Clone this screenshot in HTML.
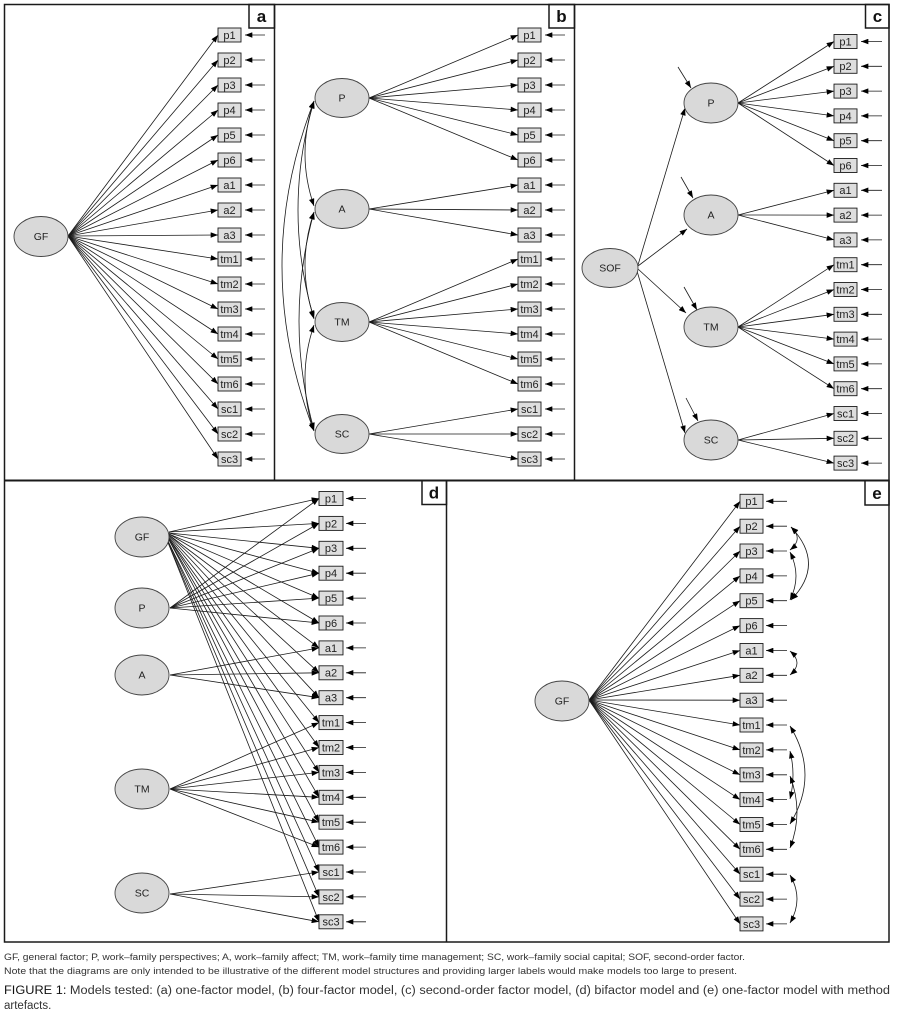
<!DOCTYPE html>
<html><head><meta charset="utf-8"><style>
html,body{margin:0;padding:0;background:#fff;}
svg{display:block;}
.ln{stroke:#1a1a1a;stroke-width:0.8;fill:none;}
.bx{fill:#dedede;stroke:#1a1a1a;stroke-width:0.9;}
.el{fill:#d9d9d9;stroke:#444;stroke-width:0.9;}
.t{font-family:"Liberation Sans",sans-serif;font-size:11px;fill:#222;text-anchor:middle;}
.et{font-family:"Liberation Sans",sans-serif;font-size:10.5px;fill:#222;text-anchor:middle;}
.lb{font-family:"Liberation Sans",sans-serif;font-size:17px;font-weight:bold;fill:#111;text-anchor:middle;}
.cap{font-family:"Liberation Sans Narrow","Liberation Sans",sans-serif;fill:#333;}
</style></head><body>
<svg width="898" height="1017" viewBox="0 0 898 1017" xmlns="http://www.w3.org/2000/svg">
<defs>
<marker id="ah" viewBox="0 0 8 6" refX="8" refY="3" markerWidth="8" markerHeight="5.5" markerUnits="userSpaceOnUse" orient="auto"><path d="M0,0L8,3L0,6z" fill="#000"/></marker>
<marker id="as" viewBox="0 0 8 6" refX="8" refY="3" markerWidth="8" markerHeight="5.5" markerUnits="userSpaceOnUse" orient="auto-start-reverse"><path d="M0,0L8,3L0,6z" fill="#000"/></marker>
</defs>
<rect width="898" height="1017" fill="#fff"/>

<!-- panel borders -->
<g stroke="#1a1a1a" stroke-width="1.5" fill="none">
<rect x="4.5" y="4.5" width="884.5" height="937.5"/>
<line x1="4.5" y1="480.5" x2="889" y2="480.5" stroke-width="2"/>
<line x1="274.5" y1="4.5" x2="274.5" y2="480.5"/>
<line x1="574.5" y1="4.5" x2="574.5" y2="480.5"/>
<line x1="446.5" y1="480.5" x2="446.5" y2="942"/>
<rect x="249" y="4.5" width="25.5" height="23.5"/>
<rect x="549" y="4.5" width="25.5" height="23.5"/>
<rect x="865.5" y="4.5" width="23.5" height="23.5"/>
<rect x="422" y="480.5" width="24.5" height="24"/>
<rect x="865" y="480.5" width="24" height="24.5"/>
</g>
<text class="lb" x="261.5" y="22">a</text>
<text class="lb" x="561.5" y="22">b</text>
<text class="lb" x="877.5" y="22">c</text>
<text class="lb" x="434" y="498.5">d</text>
<text class="lb" x="877" y="499">e</text>

<!-- ===== Panel a ===== -->
<g class="ln" marker-end="url(#ah)">
<line x1="68" y1="236" x2="218" y2="35"/>
<line x1="68" y1="236" x2="218" y2="60"/>
<line x1="68" y1="236" x2="218" y2="85"/>
<line x1="68" y1="236" x2="218" y2="110"/>
<line x1="68" y1="236" x2="218" y2="135"/>
<line x1="68" y1="236" x2="218" y2="160"/>
<line x1="68" y1="236" x2="218" y2="185"/>
<line x1="68" y1="236" x2="218" y2="210"/>
<line x1="68" y1="236" x2="218" y2="235"/>
<line x1="68" y1="236" x2="218" y2="259"/>
<line x1="68" y1="236" x2="218" y2="284"/>
<line x1="68" y1="236" x2="218" y2="309"/>
<line x1="68" y1="236" x2="218" y2="334"/>
<line x1="68" y1="236" x2="218" y2="359"/>
<line x1="68" y1="236" x2="218" y2="384"/>
<line x1="68" y1="236" x2="218" y2="409"/>
<line x1="68" y1="236" x2="218" y2="434"/>
<line x1="68" y1="236" x2="218" y2="459"/>
</g>
<g class="ln" marker-end="url(#ah)">
<line x1="265" y1="35" x2="245" y2="35"/><line x1="265" y1="60" x2="245" y2="60"/><line x1="265" y1="85" x2="245" y2="85"/><line x1="265" y1="110" x2="245" y2="110"/><line x1="265" y1="135" x2="245" y2="135"/><line x1="265" y1="160" x2="245" y2="160"/><line x1="265" y1="185" x2="245" y2="185"/><line x1="265" y1="210" x2="245" y2="210"/><line x1="265" y1="235" x2="245" y2="235"/><line x1="265" y1="259" x2="245" y2="259"/><line x1="265" y1="284" x2="245" y2="284"/><line x1="265" y1="309" x2="245" y2="309"/><line x1="265" y1="334" x2="245" y2="334"/><line x1="265" y1="359" x2="245" y2="359"/><line x1="265" y1="384" x2="245" y2="384"/><line x1="265" y1="409" x2="245" y2="409"/><line x1="265" y1="434" x2="245" y2="434"/><line x1="265" y1="459" x2="245" y2="459"/>
</g>
<g class="bx">
<rect x="218" y="28" width="23" height="14"/><rect x="218" y="53" width="23" height="14"/><rect x="218" y="78" width="23" height="14"/><rect x="218" y="103" width="23" height="14"/><rect x="218" y="128" width="23" height="14"/><rect x="218" y="153" width="23" height="14"/><rect x="218" y="178" width="23" height="14"/><rect x="218" y="203" width="23" height="14"/><rect x="218" y="228" width="23" height="14"/><rect x="218" y="252" width="23" height="14"/><rect x="218" y="277" width="23" height="14"/><rect x="218" y="302" width="23" height="14"/><rect x="218" y="327" width="23" height="14"/><rect x="218" y="352" width="23" height="14"/><rect x="218" y="377" width="23" height="14"/><rect x="218" y="402" width="23" height="14"/><rect x="218" y="427" width="23" height="14"/><rect x="218" y="452" width="23" height="14"/>
</g>
<g class="t">
<text x="229.5" y="38.9">p1</text><text x="229.5" y="63.9">p2</text><text x="229.5" y="88.9">p3</text><text x="229.5" y="113.9">p4</text><text x="229.5" y="138.9">p5</text><text x="229.5" y="163.9">p6</text><text x="229.5" y="188.9">a1</text><text x="229.5" y="213.9">a2</text><text x="229.5" y="238.9">a3</text><text x="229.5" y="262.9">tm1</text><text x="229.5" y="287.9">tm2</text><text x="229.5" y="312.9">tm3</text><text x="229.5" y="337.9">tm4</text><text x="229.5" y="362.9">tm5</text><text x="229.5" y="387.9">tm6</text><text x="229.5" y="412.9">sc1</text><text x="229.5" y="437.9">sc2</text><text x="229.5" y="462.9">sc3</text>
</g>
<ellipse class="el" cx="41" cy="236.5" rx="27" ry="20"/>
<text class="et" x="41" y="240">GF</text>

<!-- ===== Panel b ===== -->
<g class="ln" marker-end="url(#ah)">
<line x1="369" y1="98" x2="518" y2="35"/><line x1="369" y1="98" x2="518" y2="60"/><line x1="369" y1="98" x2="518" y2="85"/><line x1="369" y1="98" x2="518" y2="110"/><line x1="369" y1="98" x2="518" y2="135"/><line x1="369" y1="98" x2="518" y2="160"/>
<line x1="369" y1="209" x2="518" y2="185"/><line x1="369" y1="209" x2="518" y2="210"/><line x1="369" y1="209" x2="518" y2="235"/>
<line x1="369" y1="322" x2="518" y2="259"/><line x1="369" y1="322" x2="518" y2="284"/><line x1="369" y1="322" x2="518" y2="309"/><line x1="369" y1="322" x2="518" y2="334"/><line x1="369" y1="322" x2="518" y2="359"/><line x1="369" y1="322" x2="518" y2="384"/>
<line x1="369" y1="434" x2="518" y2="409"/><line x1="369" y1="434" x2="518" y2="434"/><line x1="369" y1="434" x2="518" y2="459"/>
</g>
<g class="ln" marker-end="url(#ah)">
<line x1="565" y1="35" x2="545" y2="35"/><line x1="565" y1="60" x2="545" y2="60"/><line x1="565" y1="85" x2="545" y2="85"/><line x1="565" y1="110" x2="545" y2="110"/><line x1="565" y1="135" x2="545" y2="135"/><line x1="565" y1="160" x2="545" y2="160"/><line x1="565" y1="185" x2="545" y2="185"/><line x1="565" y1="210" x2="545" y2="210"/><line x1="565" y1="235" x2="545" y2="235"/><line x1="565" y1="259" x2="545" y2="259"/><line x1="565" y1="284" x2="545" y2="284"/><line x1="565" y1="309" x2="545" y2="309"/><line x1="565" y1="334" x2="545" y2="334"/><line x1="565" y1="359" x2="545" y2="359"/><line x1="565" y1="384" x2="545" y2="384"/><line x1="565" y1="409" x2="545" y2="409"/><line x1="565" y1="434" x2="545" y2="434"/><line x1="565" y1="459" x2="545" y2="459"/>
</g>
<g class="bx">
<rect x="518" y="28" width="23" height="14"/><rect x="518" y="53" width="23" height="14"/><rect x="518" y="78" width="23" height="14"/><rect x="518" y="103" width="23" height="14"/><rect x="518" y="128" width="23" height="14"/><rect x="518" y="153" width="23" height="14"/><rect x="518" y="178" width="23" height="14"/><rect x="518" y="203" width="23" height="14"/><rect x="518" y="228" width="23" height="14"/><rect x="518" y="252" width="23" height="14"/><rect x="518" y="277" width="23" height="14"/><rect x="518" y="302" width="23" height="14"/><rect x="518" y="327" width="23" height="14"/><rect x="518" y="352" width="23" height="14"/><rect x="518" y="377" width="23" height="14"/><rect x="518" y="402" width="23" height="14"/><rect x="518" y="427" width="23" height="14"/><rect x="518" y="452" width="23" height="14"/>
</g>
<g class="t">
<text x="529.5" y="38.9">p1</text><text x="529.5" y="63.9">p2</text><text x="529.5" y="88.9">p3</text><text x="529.5" y="113.9">p4</text><text x="529.5" y="138.9">p5</text><text x="529.5" y="163.9">p6</text><text x="529.5" y="188.9">a1</text><text x="529.5" y="213.9">a2</text><text x="529.5" y="238.9">a3</text><text x="529.5" y="262.9">tm1</text><text x="529.5" y="287.9">tm2</text><text x="529.5" y="312.9">tm3</text><text x="529.5" y="337.9">tm4</text><text x="529.5" y="362.9">tm5</text><text x="529.5" y="387.9">tm6</text><text x="529.5" y="412.9">sc1</text><text x="529.5" y="437.9">sc2</text><text x="529.5" y="462.9">sc3</text>
</g>
<!-- covariances b -->
<g class="ln" marker-start="url(#as)" marker-end="url(#ah)">
<path d="M314,101 Q296,154 314,206"/>
<path d="M314,101 Q282,210 314,319"/>
<path d="M314,101 Q250,266 314,431"/>
<path d="M314,212 Q296,265 314,318"/>
<path d="M314,212 Q284,321 314,430"/>
<path d="M314,325 Q296,378 314,431"/>
</g>
<g class="el">
<ellipse cx="342" cy="98" rx="27" ry="19.5"/>
<ellipse cx="342" cy="209" rx="27" ry="19.5"/>
<ellipse cx="342" cy="322" rx="27" ry="19.5"/>
<ellipse cx="342" cy="434" rx="27" ry="19.5"/>
</g>
<g class="et">
<text x="342" y="101.5">P</text><text x="342" y="212.5">A</text><text x="342" y="325.5">TM</text><text x="342" y="437.5">SC</text>
</g>

<!-- ===== Panel c ===== -->
<g class="ln" marker-end="url(#ah)">
<line x1="738" y1="103" x2="834" y2="41.5"/><line x1="738" y1="103" x2="834" y2="66.3"/><line x1="738" y1="103" x2="834" y2="91.1"/><line x1="738" y1="103" x2="834" y2="115.9"/><line x1="738" y1="103" x2="834" y2="140.7"/><line x1="738" y1="103" x2="834" y2="165.5"/>
<line x1="738" y1="215" x2="834" y2="190.3"/><line x1="738" y1="215" x2="834" y2="215.1"/><line x1="738" y1="215" x2="834" y2="239.9"/>
<line x1="738" y1="327" x2="834" y2="264.7"/><line x1="738" y1="327" x2="834" y2="289.5"/><line x1="738" y1="327" x2="834" y2="314.3"/><line x1="738" y1="327" x2="834" y2="339.1"/><line x1="738" y1="327" x2="834" y2="363.9"/><line x1="738" y1="327" x2="834" y2="388.7"/>
<line x1="738" y1="440" x2="834" y2="413.5"/><line x1="738" y1="440" x2="834" y2="438.3"/><line x1="738" y1="440" x2="834" y2="463.1"/>
<line x1="638" y1="265" x2="685" y2="108"/>
<line x1="638" y1="266" x2="687" y2="229"/>
<line x1="638" y1="269" x2="686" y2="313"/>
<line x1="637" y1="271" x2="685" y2="433"/>
<line x1="678" y1="67" x2="691" y2="88"/>
<line x1="681" y1="177" x2="693" y2="198"/>
<line x1="684" y1="287" x2="697" y2="310"/>
<line x1="686" y1="398" x2="698" y2="421"/>
</g>
<g class="ln" marker-end="url(#ah)">
<line x1="882" y1="41.5" x2="861" y2="41.5"/><line x1="882" y1="66.3" x2="861" y2="66.3"/><line x1="882" y1="91.1" x2="861" y2="91.1"/><line x1="882" y1="115.9" x2="861" y2="115.9"/><line x1="882" y1="140.7" x2="861" y2="140.7"/><line x1="882" y1="165.5" x2="861" y2="165.5"/><line x1="882" y1="190.3" x2="861" y2="190.3"/><line x1="882" y1="215.1" x2="861" y2="215.1"/><line x1="882" y1="239.9" x2="861" y2="239.9"/><line x1="882" y1="264.7" x2="861" y2="264.7"/><line x1="882" y1="289.5" x2="861" y2="289.5"/><line x1="882" y1="314.3" x2="861" y2="314.3"/><line x1="882" y1="339.1" x2="861" y2="339.1"/><line x1="882" y1="363.9" x2="861" y2="363.9"/><line x1="882" y1="388.7" x2="861" y2="388.7"/><line x1="882" y1="413.5" x2="861" y2="413.5"/><line x1="882" y1="438.3" x2="861" y2="438.3"/><line x1="882" y1="463.1" x2="861" y2="463.1"/>
</g>
<g class="bx">
<rect x="834" y="34.5" width="23" height="14"/><rect x="834" y="59.3" width="23" height="14"/><rect x="834" y="84.1" width="23" height="14"/><rect x="834" y="108.9" width="23" height="14"/><rect x="834" y="133.7" width="23" height="14"/><rect x="834" y="158.5" width="23" height="14"/><rect x="834" y="183.3" width="23" height="14"/><rect x="834" y="208.1" width="23" height="14"/><rect x="834" y="232.9" width="23" height="14"/><rect x="834" y="257.7" width="23" height="14"/><rect x="834" y="282.5" width="23" height="14"/><rect x="834" y="307.3" width="23" height="14"/><rect x="834" y="332.1" width="23" height="14"/><rect x="834" y="356.9" width="23" height="14"/><rect x="834" y="381.7" width="23" height="14"/><rect x="834" y="406.5" width="23" height="14"/><rect x="834" y="431.3" width="23" height="14"/><rect x="834" y="456.1" width="23" height="14"/>
</g>
<g class="t">
<text x="845.5" y="45.4">p1</text><text x="845.5" y="70.2">p2</text><text x="845.5" y="95">p3</text><text x="845.5" y="119.8">p4</text><text x="845.5" y="144.6">p5</text><text x="845.5" y="169.4">p6</text><text x="845.5" y="194.2">a1</text><text x="845.5" y="219">a2</text><text x="845.5" y="243.8">a3</text><text x="845.5" y="268.6">tm1</text><text x="845.5" y="293.4">tm2</text><text x="845.5" y="318.2">tm3</text><text x="845.5" y="343">tm4</text><text x="845.5" y="367.8">tm5</text><text x="845.5" y="392.6">tm6</text><text x="845.5" y="417.4">sc1</text><text x="845.5" y="442.2">sc2</text><text x="845.5" y="467">sc3</text>
</g>
<g class="el">
<ellipse cx="711" cy="103" rx="27" ry="20"/>
<ellipse cx="711" cy="215" rx="27" ry="20"/>
<ellipse cx="711" cy="327" rx="27" ry="20"/>
<ellipse cx="711" cy="440" rx="27" ry="20"/>
<ellipse cx="610" cy="268" rx="28" ry="19.5"/>
</g>
<g class="et">
<text x="711" y="106.5">P</text><text x="711" y="218.5">A</text><text x="711" y="330.5">TM</text><text x="711" y="443.5">SC</text><text x="610" y="271.5">SOF</text>
</g>

<!-- ===== Panel d ===== -->
<g class="ln" marker-end="url(#ah)">
<line x1="169" y1="532" x2="319" y2="498.5"/><line x1="169" y1="532" x2="319" y2="523.4"/><line x1="169" y1="533" x2="319" y2="548.3"/><line x1="169" y1="533" x2="319" y2="573.2"/><line x1="169" y1="534" x2="319" y2="598.1"/><line x1="169" y1="534" x2="319" y2="623"/><line x1="169" y1="535" x2="319" y2="647.9"/><line x1="169" y1="535" x2="319" y2="672.8"/><line x1="169" y1="536" x2="319" y2="697.7"/><line x1="168" y1="536" x2="319" y2="722.6"/><line x1="168" y1="537" x2="319" y2="747.5"/><line x1="168" y1="537" x2="319" y2="772.4"/><line x1="168" y1="538" x2="319" y2="797.3"/><line x1="168" y1="538" x2="319" y2="822.2"/><line x1="167" y1="539" x2="319" y2="847.1"/><line x1="167" y1="539" x2="319" y2="872"/><line x1="167" y1="540" x2="319" y2="896.9"/><line x1="167" y1="540" x2="319" y2="921.8"/>
<line x1="170" y1="608" x2="319" y2="498.5"/><line x1="170" y1="608" x2="319" y2="523.4"/><line x1="170" y1="608" x2="319" y2="548.3"/><line x1="170" y1="608" x2="319" y2="573.2"/><line x1="170" y1="608" x2="319" y2="598.1"/><line x1="170" y1="608" x2="319" y2="623"/>
<line x1="170" y1="675" x2="319" y2="647.9"/><line x1="170" y1="675" x2="319" y2="672.8"/><line x1="170" y1="675" x2="319" y2="697.7"/>
<line x1="170" y1="789" x2="319" y2="722.6"/><line x1="170" y1="789" x2="319" y2="747.5"/><line x1="170" y1="789" x2="319" y2="772.4"/><line x1="170" y1="789" x2="319" y2="797.3"/><line x1="170" y1="789" x2="319" y2="822.2"/><line x1="170" y1="789" x2="319" y2="847.1"/>
<line x1="170" y1="894" x2="319" y2="872"/><line x1="170" y1="894" x2="319" y2="896.9"/><line x1="170" y1="894" x2="319" y2="921.8"/>
</g>
<g class="ln" marker-end="url(#ah)">
<line x1="366" y1="498.5" x2="346" y2="498.5"/><line x1="366" y1="523.4" x2="346" y2="523.4"/><line x1="366" y1="548.3" x2="346" y2="548.3"/><line x1="366" y1="573.2" x2="346" y2="573.2"/><line x1="366" y1="598.1" x2="346" y2="598.1"/><line x1="366" y1="623" x2="346" y2="623"/><line x1="366" y1="647.9" x2="346" y2="647.9"/><line x1="366" y1="672.8" x2="346" y2="672.8"/><line x1="366" y1="697.7" x2="346" y2="697.7"/><line x1="366" y1="722.6" x2="346" y2="722.6"/><line x1="366" y1="747.5" x2="346" y2="747.5"/><line x1="366" y1="772.4" x2="346" y2="772.4"/><line x1="366" y1="797.3" x2="346" y2="797.3"/><line x1="366" y1="822.2" x2="346" y2="822.2"/><line x1="366" y1="847.1" x2="346" y2="847.1"/><line x1="366" y1="872" x2="346" y2="872"/><line x1="366" y1="896.9" x2="346" y2="896.9"/><line x1="366" y1="921.8" x2="346" y2="921.8"/>
</g>
<g class="bx">
<rect x="319" y="491.5" width="24" height="14"/><rect x="319" y="516.4" width="24" height="14"/><rect x="319" y="541.3" width="24" height="14"/><rect x="319" y="566.2" width="24" height="14"/><rect x="319" y="591.1" width="24" height="14"/><rect x="319" y="616" width="24" height="14"/><rect x="319" y="640.9" width="24" height="14"/><rect x="319" y="665.8" width="24" height="14"/><rect x="319" y="690.7" width="24" height="14"/><rect x="319" y="715.6" width="24" height="14"/><rect x="319" y="740.5" width="24" height="14"/><rect x="319" y="765.4" width="24" height="14"/><rect x="319" y="790.3" width="24" height="14"/><rect x="319" y="815.2" width="24" height="14"/><rect x="319" y="840.1" width="24" height="14"/><rect x="319" y="865" width="24" height="14"/><rect x="319" y="889.9" width="24" height="14"/><rect x="319" y="914.8" width="24" height="14"/>
</g>
<g class="t">
<text x="331" y="502.4">p1</text><text x="331" y="527.3">p2</text><text x="331" y="552.2">p3</text><text x="331" y="577.1">p4</text><text x="331" y="602">p5</text><text x="331" y="626.9">p6</text><text x="331" y="651.8">a1</text><text x="331" y="676.7">a2</text><text x="331" y="701.6">a3</text><text x="331" y="726.5">tm1</text><text x="331" y="751.4">tm2</text><text x="331" y="776.3">tm3</text><text x="331" y="801.2">tm4</text><text x="331" y="826.1">tm5</text><text x="331" y="851">tm6</text><text x="331" y="875.9">sc1</text><text x="331" y="900.8">sc2</text><text x="331" y="925.7">sc3</text>
</g>
<g class="el">
<ellipse cx="142" cy="537" rx="27" ry="20"/>
<ellipse cx="142" cy="608" rx="27" ry="20"/>
<ellipse cx="142" cy="675" rx="27" ry="20"/>
<ellipse cx="142" cy="789" rx="27" ry="20"/>
<ellipse cx="142" cy="893" rx="27" ry="20"/>
</g>
<g class="et">
<text x="142" y="540.5">GF</text><text x="142" y="611.5">P</text><text x="142" y="678.5">A</text><text x="142" y="792.5">TM</text><text x="142" y="896.5">SC</text>
</g>

<!-- ===== Panel e ===== -->
<g class="ln" marker-end="url(#ah)">
<line x1="589" y1="700" x2="740" y2="501.3"/><line x1="589" y1="700" x2="740" y2="526.2"/><line x1="589" y1="700" x2="740" y2="551"/><line x1="589" y1="700" x2="740" y2="575.9"/><line x1="589" y1="700" x2="740" y2="600.7"/><line x1="589" y1="700" x2="740" y2="625.6"/><line x1="589" y1="700" x2="740" y2="650.5"/><line x1="589" y1="700" x2="740" y2="675.3"/><line x1="589" y1="700" x2="740" y2="700.2"/><line x1="589" y1="700" x2="740" y2="725"/><line x1="589" y1="700" x2="740" y2="749.9"/><line x1="589" y1="700" x2="740" y2="774.8"/><line x1="589" y1="700" x2="740" y2="799.6"/><line x1="589" y1="700" x2="740" y2="824.5"/><line x1="589" y1="700" x2="740" y2="849.3"/><line x1="589" y1="700" x2="740" y2="874.2"/><line x1="589" y1="700" x2="740" y2="899.1"/><line x1="589" y1="700" x2="740" y2="923.9"/>
</g>
<g class="ln" marker-end="url(#ah)">
<line x1="787" y1="501.3" x2="766" y2="501.3"/><line x1="787" y1="526.2" x2="766" y2="526.2"/><line x1="787" y1="551" x2="766" y2="551"/><line x1="787" y1="575.9" x2="766" y2="575.9"/><line x1="787" y1="600.7" x2="766" y2="600.7"/><line x1="787" y1="625.6" x2="766" y2="625.6"/><line x1="787" y1="650.5" x2="766" y2="650.5"/><line x1="787" y1="675.3" x2="766" y2="675.3"/><line x1="787" y1="700.2" x2="766" y2="700.2"/><line x1="787" y1="725" x2="766" y2="725"/><line x1="787" y1="749.9" x2="766" y2="749.9"/><line x1="787" y1="774.8" x2="766" y2="774.8"/><line x1="787" y1="799.6" x2="766" y2="799.6"/><line x1="787" y1="824.5" x2="766" y2="824.5"/><line x1="787" y1="849.3" x2="766" y2="849.3"/><line x1="787" y1="874.2" x2="766" y2="874.2"/><line x1="787" y1="899.1" x2="766" y2="899.1"/><line x1="787" y1="923.9" x2="766" y2="923.9"/>
</g>
<g class="ln" marker-start="url(#as)" marker-end="url(#ah)">
<path d="M791,527 Q804,539 790,550"/>
<path d="M791,527 Q826,564 791,600"/>
<path d="M790,552 Q802,576 790,600"/>
<path d="M790,651 Q804,663 790,675"/>
<path d="M790,726 Q820,775 790,824"/>
<path d="M790,751 Q796,775 790,799"/>
<path d="M790,776 Q804,812 790,848"/>
<path d="M790,875 Q804,899 790,923"/>
</g>
<g class="bx">
<rect x="740" y="494.3" width="23" height="14"/><rect x="740" y="519.2" width="23" height="14"/><rect x="740" y="544" width="23" height="14"/><rect x="740" y="568.9" width="23" height="14"/><rect x="740" y="593.7" width="23" height="14"/><rect x="740" y="618.6" width="23" height="14"/><rect x="740" y="643.5" width="23" height="14"/><rect x="740" y="668.3" width="23" height="14"/><rect x="740" y="693.2" width="23" height="14"/><rect x="740" y="718" width="23" height="14"/><rect x="740" y="742.9" width="23" height="14"/><rect x="740" y="767.8" width="23" height="14"/><rect x="740" y="792.6" width="23" height="14"/><rect x="740" y="817.5" width="23" height="14"/><rect x="740" y="842.3" width="23" height="14"/><rect x="740" y="867.2" width="23" height="14"/><rect x="740" y="892.1" width="23" height="14"/><rect x="740" y="916.9" width="23" height="14"/>
</g>
<g class="t">
<text x="751.5" y="505.2">p1</text><text x="751.5" y="530.1">p2</text><text x="751.5" y="554.9">p3</text><text x="751.5" y="579.8">p4</text><text x="751.5" y="604.6">p5</text><text x="751.5" y="629.5">p6</text><text x="751.5" y="654.4">a1</text><text x="751.5" y="679.2">a2</text><text x="751.5" y="704.1">a3</text><text x="751.5" y="728.9">tm1</text><text x="751.5" y="753.8">tm2</text><text x="751.5" y="778.7">tm3</text><text x="751.5" y="803.5">tm4</text><text x="751.5" y="828.4">tm5</text><text x="751.5" y="853.2">tm6</text><text x="751.5" y="878.1">sc1</text><text x="751.5" y="903">sc2</text><text x="751.5" y="927.8">sc3</text>
</g>
<ellipse class="el" cx="562" cy="701" rx="27" ry="20"/>
<text class="et" x="562" y="704.5">GF</text>

<!-- caption -->
<text class="cap" x="4" y="960" font-size="9" textLength="741" lengthAdjust="spacingAndGlyphs">GF, general factor; P, work–family perspectives; A, work–family affect; TM, work–family time management; SC, work–family social capital; SOF, second-order factor.</text>
<text class="cap" x="4" y="974" font-size="9" textLength="733" lengthAdjust="spacingAndGlyphs">Note that the diagrams are only intended to be illustrative of the different model structures and providing larger labels would make models too large to present.</text>
<text class="cap" x="4" y="994" font-size="11.5" textLength="886" lengthAdjust="spacingAndGlyphs"><tspan fill="#111">FIGURE 1:</tspan> Models tested: (a) one-factor model, (b) four-factor model, (c) second-order factor model, (d) bifactor model and (e) one-factor model with method</text>
<text class="cap" x="4" y="1009" font-size="11.5">artefacts.</text>
</svg>
</body></html>
